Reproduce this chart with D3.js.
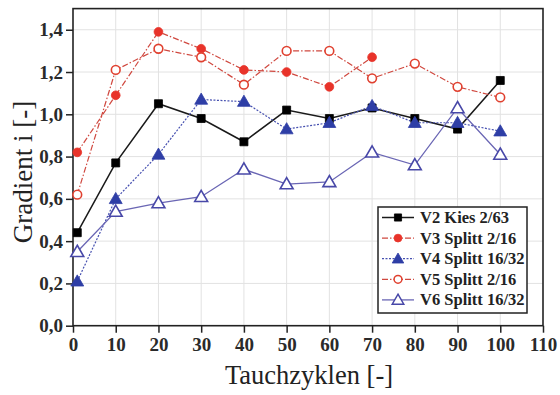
<!DOCTYPE html>
<html>
<head>
<meta charset="utf-8">
<script src="https://cdn.jsdelivr.net/npm/d3@7"></script>
<style>
  html, body { margin: 0; padding: 0; background: #fff; }
  svg { display: block; }
</style>
</head>
<body>
<svg id="chart" width="560" height="395"></svg>
<script>
// Measurement data: gradient vs. number of immersion cycles
const cycles = [1, 10, 20, 30, 40, 50, 60, 70, 80, 90, 100];
const v2Kies = [0.44, 0.77, 1.05, 0.98, 0.87, 1.02, 0.98, 1.03, 0.98, 0.93, 1.16];
const v3Splitt = [0.82, 1.09, 1.39, 1.31, 1.21, 1.20, 1.13, 1.27];
const v4Splitt = [0.21, 0.60, 0.81, 1.07, 1.06, 0.93, 0.96, 1.04, 0.96, 0.96, 0.92];
const v5Splitt = [0.62, 1.21, 1.31, 1.27, 1.14, 1.30, 1.30, 1.17, 1.24, 1.13, 1.08];
const v6Splitt = [0.35, 0.54, 0.58, 0.61, 0.74, 0.67, 0.68, 0.82, 0.76, 1.03, 0.81];

const seriesNames = ["V2 Kies 2/63", "V3 Splitt 2/16", "V4 Splitt 16/32", "V5 Splitt 2/16", "V6 Splitt 16/32"];
const xTicks = [0, 10, 20, 30, 40, 50, 60, 70, 80, 90, 100, 110];
const yTicks = [0, 0.2, 0.4, 0.6, 0.8, 1.0, 1.2, 1.4];

const series = [
  { name: seriesNames[0], values: v2Kies, line: "#1a1a1a", width: 1.5, dash: null, marker: "square", fill: "#000", stroke: "#000" },
  { name: seriesNames[1], values: v3Splitt, line: "#d0483f", width: 1.2, dash: "6,2,1.5,2", marker: "circle", fill: "#e8332a", stroke: "#e8332a" },
  { name: seriesNames[2], values: v4Splitt, line: "#4650b0", width: 1.2, dash: "2,1.5", marker: "triangle", fill: "#2e3ea6", stroke: "#2e3ea6" },
  { name: seriesNames[3], values: v5Splitt, line: "#d0483f", width: 1.2, dash: "6,2,1.5,2", marker: "circle", fill: "#fff", stroke: "#e0402f" },
  { name: seriesNames[4], values: v6Splitt, line: "#6a66b4", width: 1.3, dash: null, marker: "triangle", fill: "#fff", stroke: "#4848a8" }
];

const svg = d3.select("#chart");
const margin = { left: 73, right: 17, top: 8.6, bottom: 69.3 };
const W = 560, H = 395;
const x = d3.scaleLinear().domain([0, 110]).range([margin.left, W - margin.right]);
const y = d3.scaleLinear().domain([0, 1.5]).range([H - margin.bottom, margin.top]);

const fmt = d => d3.format(".1f")(d).replace(".", ",");
const serif = "'Liberation Serif', 'Times New Roman', serif";

// Grid
const grid = svg.append("g");
grid.selectAll("line.gx").data(xTicks.slice(1, -1)).join("line")
  .attr("x1", d => x(d)).attr("x2", d => x(d))
  .attr("y1", y(0)).attr("y2", y(1.5))
  .attr("stroke", "#e2e2e2").attr("stroke-width", 1);
grid.selectAll("line.gy").data(yTicks.slice(1)).join("line")
  .attr("x1", x(0)).attr("x2", x(110))
  .attr("y1", d => y(d)).attr("y2", d => y(d))
  .attr("stroke", "#e2e2e2").attr("stroke-width", 1);

// Axes
const xAxis = svg.append("g").attr("transform", `translate(0,${y(0)})`)
  .call(d3.axisBottom(x).tickValues(xTicks).tickSize(7).tickSizeOuter(0).tickFormat(d3.format("d")));
const yAxis = svg.append("g").attr("transform", `translate(${x(0)},0)`)
  .call(d3.axisLeft(y).tickValues(yTicks).tickSize(7).tickSizeOuter(0).tickFormat(fmt));
[xAxis, yAxis].forEach(a => {
  a.select(".domain").remove();
  a.selectAll(".tick line").attr("stroke", "#222").attr("stroke-width", 1.5);
  a.selectAll(".tick text").attr("font-family", serif).attr("font-size", 19)
    .attr("fill", "#2a2a2a").attr("font-weight", "bold");
});
xAxis.selectAll(".tick text").attr("dy", "0.71em").attr("y", 12);
yAxis.selectAll(".tick text").attr("x", -10);

// Frame
svg.append("rect")
  .attr("x", x(0)).attr("y", y(1.5))
  .attr("width", x(110) - x(0)).attr("height", y(0) - y(1.5))
  .attr("fill", "none").attr("stroke", "#222").attr("stroke-width", 1.6);

// Marker symbols
const symbolFor = m => m === "square" ? d3.symbolSquare : m === "circle" ? d3.symbolCircle : d3.symbolTriangle;
const sizeFor = m => m === "square" ? 64 : m === "circle" ? 60 : 72;

const lineGen = d3.line().x(d => x(d[0])).y(d => y(d[1]));

series.forEach(s => {
  const pts = s.values.map((v, i) => [cycles[i], v]);
  svg.append("path").datum(pts)
    .attr("d", lineGen).attr("fill", "none")
    .attr("stroke", s.line).attr("stroke-width", s.width)
    .attr("stroke-dasharray", s.dash);
});
series.forEach(s => {
  const pts = s.values.map((v, i) => [cycles[i], v]);
  svg.append("g").selectAll("path").data(pts).join("path")
    .attr("transform", d => `translate(${x(d[0])},${y(d[1]) + (s.marker === "triangle" ? 1 : 0)})`)
    .attr("d", d3.symbol().type(symbolFor(s.marker)).size(sizeFor(s.marker)))
    .attr("fill", s.fill).attr("stroke", s.stroke)
    .attr("stroke-width", s.fill === "#fff" ? 1.6 : 0.8);
});

// Legend
const lg = svg.append("g");
lg.append("rect").attr("x", 378).attr("y", 207).attr("width", 149).attr("height", 106)
  .attr("fill", "#fff").attr("stroke", "#222").attr("stroke-width", 1.5);
series.forEach((s, i) => {
  const cy = 217.5 + i * 20.6;
  lg.append("line").attr("x1", 382).attr("x2", 414).attr("y1", cy).attr("y2", cy)
    .attr("stroke", s.line).attr("stroke-width", s.width).attr("stroke-dasharray", s.dash);
  lg.append("path")
    .attr("transform", `translate(398,${cy + (s.marker === "triangle" ? 1 : 0)})`)
    .attr("d", d3.symbol().type(symbolFor(s.marker)).size(sizeFor(s.marker) * 0.8))
    .attr("fill", s.fill).attr("stroke", s.stroke)
    .attr("stroke-width", s.fill === "#fff" ? 1.5 : 0.8);
  lg.append("text").attr("x", 420).attr("y", cy + 5.5)
    .attr("font-family", serif).attr("font-size", 16.5).attr("font-weight", "bold")
    .attr("fill", "#222").text(s.name);
});

// Axis titles
svg.append("text").attr("x", 309).attr("y", 384).attr("text-anchor", "middle")
  .attr("font-family", serif).attr("font-size", 26.5).attr("fill", "#222")
  .text("Tauchzyklen [-]");
svg.append("text").attr("transform", "translate(32,172) rotate(-90)").attr("text-anchor", "middle")
  .attr("font-family", serif).attr("font-size", 27).attr("fill", "#222")
  .text("Gradient i [-]");
</script>
</body>
</html>
